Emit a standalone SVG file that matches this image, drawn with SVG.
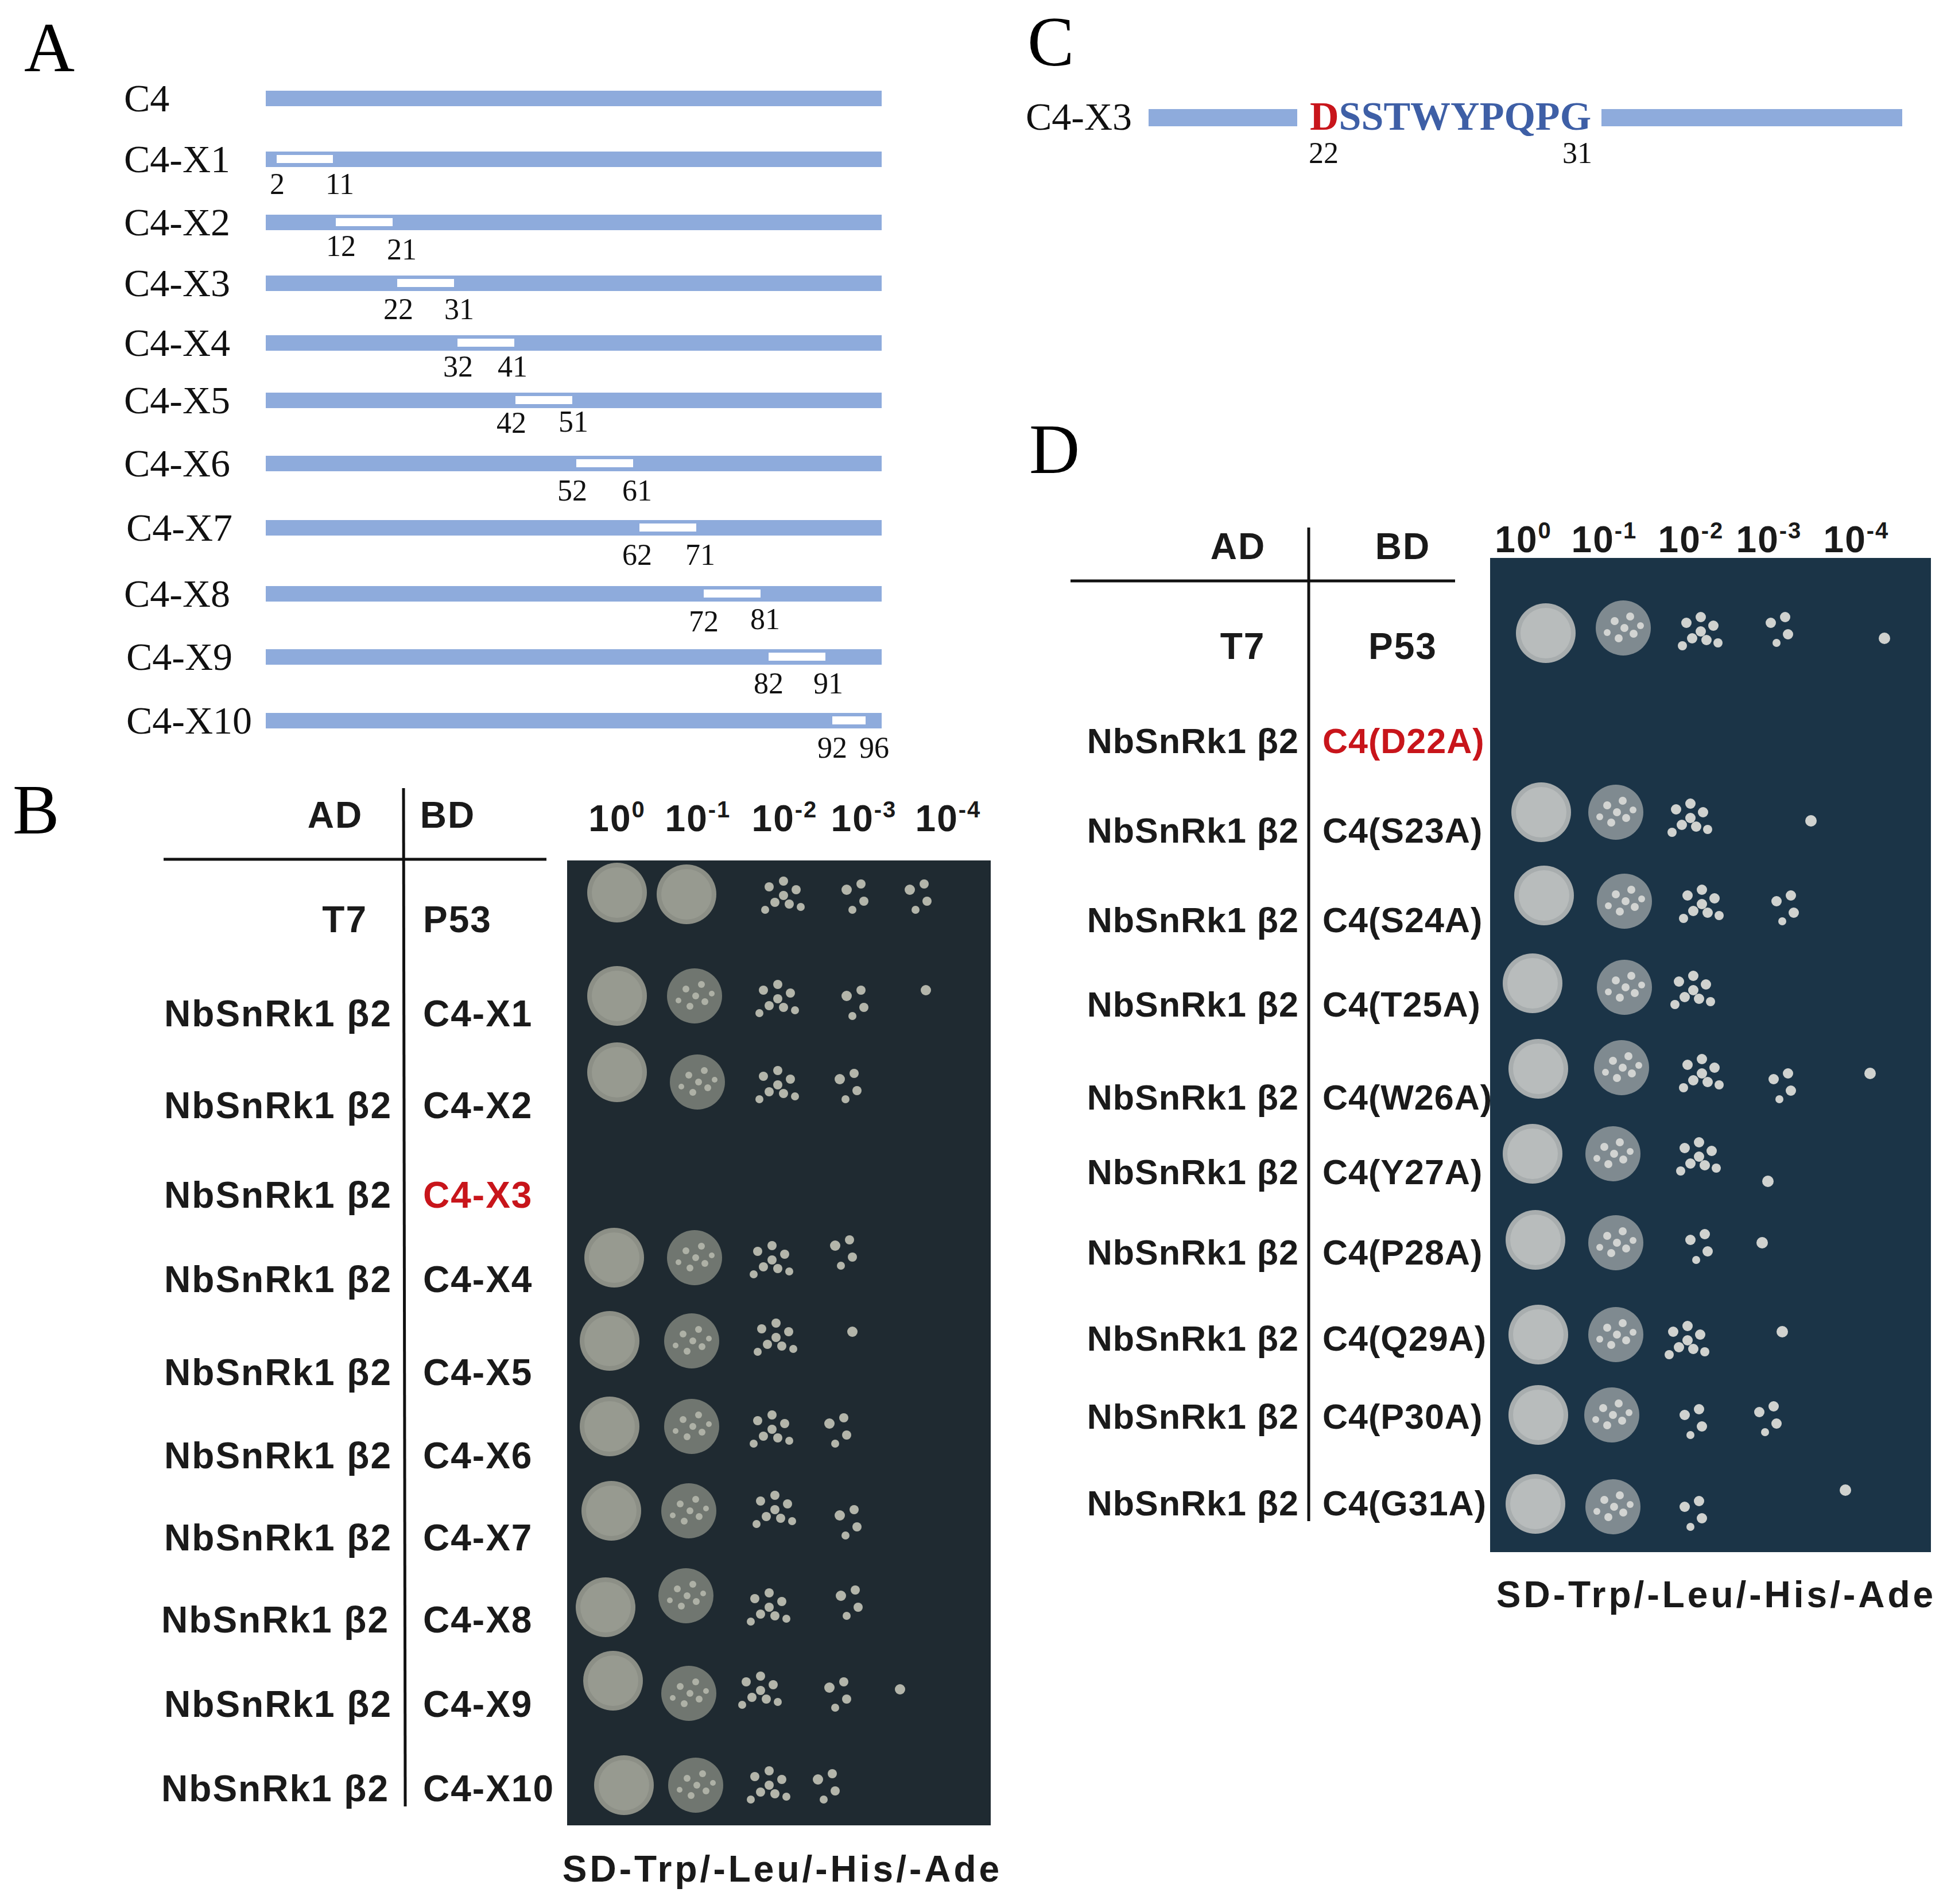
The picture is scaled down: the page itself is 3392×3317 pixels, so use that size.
<svg xmlns="http://www.w3.org/2000/svg" xmlns:xlink="http://www.w3.org/1999/xlink" width="3392" height="3317" viewBox="0 0 3392 3317">
<style>
.pl{font-family:"Liberation Serif",serif;font-size:122px;fill:#000}
.al{font-family:"Liberation Serif",serif;font-size:68px;fill:#111}
.num{font-family:"Liberation Serif",serif;font-size:52px;fill:#111;text-anchor:middle}
.bar{fill:#8eabdc}
.box{fill:#fff}
.t{font-family:"Liberation Sans",Arial,sans-serif;font-size:64px;font-weight:bold;fill:#1a1a1a;letter-spacing:2px}
.d{font-size:61px;letter-spacing:1px}
.ft{letter-spacing:5px}
.r{fill:#c8151b}
.ln{stroke:#111;stroke-width:5}
</style>
<defs>
<g id="full"><circle r="52" fill="#8c8f86"/><circle r="44" fill="#979a90"/></g>
<g id="spk"><circle r="48" fill="#707670"/><circle cx="-15" cy="-12" r="6" fill="#aeb1a6"/><circle cx="12" cy="-20" r="6" fill="#aeb1a6"/><circle cx="18" cy="10" r="6" fill="#aeb1a6"/><circle cx="-8" cy="18" r="6" fill="#aeb1a6"/><circle cx="2" cy="0" r="6" fill="#aeb1a6"/><circle cx="-28" cy="8" r="5" fill="#aeb1a6"/><circle cx="30" cy="-4" r="5" fill="#aeb1a6"/></g>
<g id="dots" fill="#b3b5aa"><circle cx="-25" cy="-15" r="8"/><circle cx="0" cy="-25" r="8"/><circle cx="22" cy="-10" r="8"/><circle cx="-15" cy="12" r="8"/><circle cx="10" cy="15" r="8"/><circle cx="30" cy="20" r="7"/><circle cx="-32" cy="25" r="7"/><circle cx="0" cy="0" r="8"/></g>
<g id="few" fill="#b3b5aa"><circle cx="-15" cy="-10" r="9"/><circle cx="10" cy="-20" r="8"/><circle cx="15" cy="10" r="8"/><circle cx="-5" cy="25" r="7"/></g>
<g id="one" fill="#b3b5aa"><circle r="9"/></g>
<g id="fullD"><circle r="52" fill="#a8adae"/><circle r="44" fill="#b8bcbc"/></g>
<g id="spkD"><circle r="48" fill="#7f8a90"/><circle cx="-15" cy="-12" r="7" fill="#d2d4d2"/><circle cx="12" cy="-20" r="7" fill="#d2d4d2"/><circle cx="18" cy="10" r="7" fill="#d2d4d2"/><circle cx="-8" cy="18" r="7" fill="#d2d4d2"/><circle cx="2" cy="0" r="7" fill="#d2d4d2"/><circle cx="-28" cy="8" r="6" fill="#d2d4d2"/><circle cx="30" cy="-4" r="6" fill="#d2d4d2"/></g>
<g id="dotsD" fill="#d0d2cf"><circle cx="-25" cy="-15" r="9"/><circle cx="0" cy="-25" r="9"/><circle cx="22" cy="-10" r="9"/><circle cx="-15" cy="12" r="9"/><circle cx="10" cy="15" r="9"/><circle cx="30" cy="20" r="8"/><circle cx="-32" cy="25" r="8"/><circle cx="0" cy="0" r="9"/></g>
<g id="fewD" fill="#d0d2cf"><circle cx="-15" cy="-10" r="9"/><circle cx="10" cy="-20" r="9"/><circle cx="15" cy="10" r="9"/><circle cx="-5" cy="25" r="7"/></g>
<g id="oneD" fill="#d0d2cf"><circle r="10"/></g>
</defs>
<rect width="3392" height="3317" fill="#fff"/>

<g id="panelA">
<text class="pl" x="42" y="124">A</text>
<g class="al">
<text x="216" y="194">C4</text><text x="216" y="300">C4-X1</text><text x="216" y="410">C4-X2</text><text x="216" y="516">C4-X3</text><text x="216" y="620">C4-X4</text><text x="216" y="720">C4-X5</text><text x="216" y="830">C4-X6</text><text x="220" y="942">C4-X7</text><text x="216" y="1057">C4-X8</text><text x="220" y="1167">C4-X9</text><text x="220" y="1278">C4-X10</text>
</g>
<g>
<rect class="bar" x="463" y="158" width="1073" height="27"/>
<rect class="bar" x="463" y="264" width="1073" height="27"/><rect class="box" x="482" y="270" width="98" height="14"/>
<rect class="bar" x="463" y="374" width="1073" height="27"/><rect class="box" x="585" y="380" width="99" height="14"/>
<rect class="bar" x="463" y="480" width="1073" height="27"/><rect class="box" x="692" y="486" width="99" height="14"/>
<rect class="bar" x="463" y="584" width="1073" height="27"/><rect class="box" x="797" y="590" width="99" height="14"/>
<rect class="bar" x="463" y="684" width="1073" height="27"/><rect class="box" x="898" y="690" width="99" height="14"/>
<rect class="bar" x="463" y="794" width="1073" height="27"/><rect class="box" x="1004" y="800" width="99" height="14"/>
<rect class="bar" x="463" y="906" width="1073" height="27"/><rect class="box" x="1114" y="912" width="99" height="14"/>
<rect class="bar" x="463" y="1021" width="1073" height="27"/><rect class="box" x="1226" y="1027" width="99" height="14"/>
<rect class="bar" x="463" y="1131" width="1073" height="27"/><rect class="box" x="1339" y="1137" width="99" height="14"/>
<rect class="bar" x="463" y="1242" width="1073" height="27"/><rect class="box" x="1450" y="1248" width="58" height="14"/>
</g>
<g class="num">
<text x="483" y="338">2</text><text x="592" y="338">11</text>
<text x="594" y="446">12</text><text x="700" y="452">21</text>
<text x="694" y="556">22</text><text x="800" y="556">31</text>
<text x="798" y="656">32</text><text x="893" y="656">41</text>
<text x="891" y="754">42</text><text x="999" y="752">51</text>
<text x="997" y="872">52</text><text x="1110" y="872">61</text>
<text x="1110" y="984">62</text><text x="1220" y="984">71</text>
<text x="1226" y="1100">72</text><text x="1333" y="1096">81</text>
<text x="1339" y="1208">82</text><text x="1443" y="1208">91</text>
<text x="1450" y="1320">92</text><text x="1523" y="1320">96</text>
</g>
</g>

<g id="panelB">
<text class="pl" x="22" y="1452">B</text>
<rect x="988" y="1499" width="738" height="1681" fill="#1f2a31"/>
<g id="connectorsB"><line class="ln" x1="285" y1="1497" x2="952" y2="1497"/><line class="ln" x1="703" y1="1373" x2="706" y2="3147"/></g>
<g class="t" text-anchor="middle">
<text x="584" y="1442">AD</text><text x="780" y="1442">BD</text>
<text x="1075" y="1448">10<tspan font-size="40" dy="-24">0</tspan></text>
<text x="1216" y="1448">10<tspan font-size="40" dy="-24">-1</tspan></text>
<text x="1367" y="1448">10<tspan font-size="40" dy="-24">-2</tspan></text>
<text x="1505" y="1448">10<tspan font-size="40" dy="-24">-3</tspan></text>
<text x="1652" y="1448">10<tspan font-size="40" dy="-24">-4</tspan></text>
<text class="t ft" x="1363" y="3278">SD-Trp/-Leu/-His/-Ade</text>
</g>
<g class="t" text-anchor="end">
<text x="640" y="1624">T7</text>
<text x="683" y="1788">NbSnRk1 β2</text><text x="683" y="1948">NbSnRk1 β2</text><text x="683" y="2104">NbSnRk1 β2</text><text x="683" y="2251">NbSnRk1 β2</text><text x="683" y="2413">NbSnRk1 β2</text><text x="683" y="2558">NbSnRk1 β2</text><text x="683" y="2701">NbSnRk1 β2</text><text x="678" y="2844">NbSnRk1 β2</text><text x="683" y="2991">NbSnRk1 β2</text><text x="678" y="3138">NbSnRk1 β2</text>
</g>
<g class="t">
<text x="737" y="1624">P53</text><text x="737" y="1788">C4-X1</text><text x="737" y="1948">C4-X2</text><text x="737" y="2104" class="t r">C4-X3</text><text x="737" y="2251">C4-X4</text><text x="737" y="2413">C4-X5</text><text x="737" y="2558">C4-X6</text><text x="737" y="2701">C4-X7</text><text x="737" y="2844">C4-X8</text><text x="737" y="2991">C4-X9</text><text x="737" y="3138">C4-X10</text>
</g>
<g id="coloniesB">
<use href="#full" x="1075" y="1555"/><use href="#full" x="1196" y="1558"/><use href="#dots" x="1365" y="1560"/><use href="#few" x="1490" y="1560"/><use href="#few" x="1600" y="1560"/>
<use href="#full" x="1075" y="1735"/><use href="#spk" x="1210" y="1735"/><use href="#dots" x="1355" y="1740"/><use href="#few" x="1490" y="1745"/><use href="#one" x="1613" y="1725"/>
<use href="#full" x="1075" y="1868"/><use href="#spk" x="1215" y="1885"/><use href="#dots" x="1355" y="1890"/><use href="#few" x="1478" y="1890"/>
<use href="#full" x="1070" y="2191"/><use href="#spk" x="1210" y="2191"/><use href="#dots" x="1345" y="2195"/><use href="#few" x="1470" y="2180"/>
<use href="#full" x="1062" y="2336"/><use href="#spk" x="1205" y="2336"/><use href="#dots" x="1352" y="2330"/><use href="#one" x="1485" y="2320"/>
<use href="#full" x="1062" y="2485"/><use href="#spk" x="1205" y="2485"/><use href="#dots" x="1345" y="2490"/><use href="#few" x="1460" y="2490"/>
<use href="#full" x="1065" y="2632"/><use href="#spk" x="1200" y="2632"/><use href="#dots" x="1350" y="2630"/><use href="#few" x="1478" y="2650"/>
<use href="#full" x="1055" y="2800"/><use href="#spk" x="1195" y="2780"/><use href="#dots" x="1340" y="2800"/><use href="#few" x="1480" y="2790"/>
<use href="#full" x="1068" y="2928"/><use href="#spk" x="1200" y="2950"/><use href="#dots" x="1325" y="2945"/><use href="#few" x="1460" y="2950"/><use href="#one" x="1568" y="2943"/>
<use href="#full" x="1087" y="3110"/><use href="#spk" x="1212" y="3110"/><use href="#dots" x="1340" y="3110"/><use href="#few" x="1440" y="3110"/>
</g>
</g>

<g id="panelC">
<text class="pl" x="1790" y="114">C</text>
<text class="al" x="1787" y="226">C4-X3</text>
<rect class="bar" x="2001" y="190" width="259" height="30"/>
<rect class="bar" x="2790" y="190" width="524" height="30"/>
<text x="2282" y="226" font-family="Liberation Serif,serif" font-weight="bold" font-size="70" fill="#3e5fa6"><tspan fill="#c8151b">D</tspan>SSTWYPQPG</text>
<text class="num" x="2306" y="284">22</text><text class="num" x="2748" y="284">31</text>
</g>

<g id="panelD">
<text class="pl" x="1793" y="824">D</text>
<rect x="2596" y="972" width="768" height="1732" fill="#1b3447"/>
<g id="connectorsD"><line class="ln" x1="1865" y1="1012" x2="2535" y2="1012"/><line class="ln" x1="2280" y1="919" x2="2280" y2="2650"/></g>
<g class="t" text-anchor="middle">
<text x="2157" y="974">AD</text><text x="2444" y="974">BD</text>
<text x="2654" y="962">10<tspan font-size="40" dy="-24">0</tspan></text>
<text x="2795" y="962">10<tspan font-size="40" dy="-24">-1</tspan></text>
<text x="2946" y="962">10<tspan font-size="40" dy="-24">-2</tspan></text>
<text x="3082" y="962">10<tspan font-size="40" dy="-24">-3</tspan></text>
<text x="3234" y="962">10<tspan font-size="40" dy="-24">-4</tspan></text>
<text class="t ft" x="2990" y="2800">SD-Trp/-Leu/-His/-Ade</text>
<text x="2165" y="1148">T7</text><text x="2444" y="1148">P53</text>
</g>
<g class="t d" text-anchor="end">
<text x="2263" y="1312">NbSnRk1 β2</text><text x="2263" y="1468">NbSnRk1 β2</text><text x="2263" y="1624">NbSnRk1 β2</text><text x="2263" y="1771">NbSnRk1 β2</text><text x="2263" y="1933">NbSnRk1 β2</text><text x="2263" y="2063">NbSnRk1 β2</text><text x="2263" y="2203">NbSnRk1 β2</text><text x="2263" y="2353">NbSnRk1 β2</text><text x="2263" y="2489">NbSnRk1 β2</text><text x="2263" y="2640">NbSnRk1 β2</text>
</g>
<g class="t d">
<text x="2304" y="1312" class="t d r">C4(D22A)</text><text x="2304" y="1468">C4(S23A)</text><text x="2304" y="1624">C4(S24A)</text><text x="2304" y="1771">C4(T25A)</text><text x="2304" y="1933">C4(W26A)</text><text x="2304" y="2063">C4(Y27A)</text><text x="2304" y="2203">C4(P28A)</text><text x="2304" y="2353">C4(Q29A)</text><text x="2304" y="2489">C4(P30A)</text><text x="2304" y="2640">C4(G31A)</text>
</g>
<g id="coloniesD">
<use href="#fullD" x="2693" y="1103"/><use href="#spkD" x="2828" y="1094"/><use href="#dotsD" x="2963" y="1100"/><use href="#fewD" x="3100" y="1095"/><use href="#oneD" x="3283" y="1112"/>
<use href="#fullD" x="2685" y="1415"/><use href="#spkD" x="2815" y="1415"/><use href="#dotsD" x="2945" y="1425"/><use href="#oneD" x="3155" y="1430"/>
<use href="#fullD" x="2690" y="1560"/><use href="#spkD" x="2830" y="1570"/><use href="#dotsD" x="2965" y="1575"/><use href="#fewD" x="3110" y="1580"/>
<use href="#fullD" x="2670" y="1713"/><use href="#spkD" x="2830" y="1720"/><use href="#dotsD" x="2950" y="1725"/>
<use href="#fullD" x="2680" y="1862"/><use href="#spkD" x="2825" y="1860"/><use href="#dotsD" x="2965" y="1870"/><use href="#fewD" x="3105" y="1890"/><use href="#oneD" x="3258" y="1870"/>
<use href="#fullD" x="2670" y="2010"/><use href="#spkD" x="2810" y="2010"/><use href="#dotsD" x="2960" y="2015"/><use href="#oneD" x="3080" y="2058"/>
<use href="#fullD" x="2675" y="2160"/><use href="#spkD" x="2815" y="2165"/><use href="#fewD" x="2960" y="2170"/><use href="#oneD" x="3070" y="2165"/>
<use href="#fullD" x="2680" y="2325"/><use href="#spkD" x="2815" y="2325"/><use href="#dotsD" x="2940" y="2335"/><use href="#oneD" x="3105" y="2320"/>
<use href="#fullD" x="2680" y="2465"/><use href="#spkD" x="2808" y="2465"/><use href="#fewD" x="2950" y="2475"/><use href="#fewD" x="3080" y="2470"/>
<use href="#fullD" x="2675" y="2620"/><use href="#spkD" x="2810" y="2625"/><use href="#fewD" x="2950" y="2635"/><use href="#oneD" x="3215" y="2596"/>
</g>
</g>
</svg>
